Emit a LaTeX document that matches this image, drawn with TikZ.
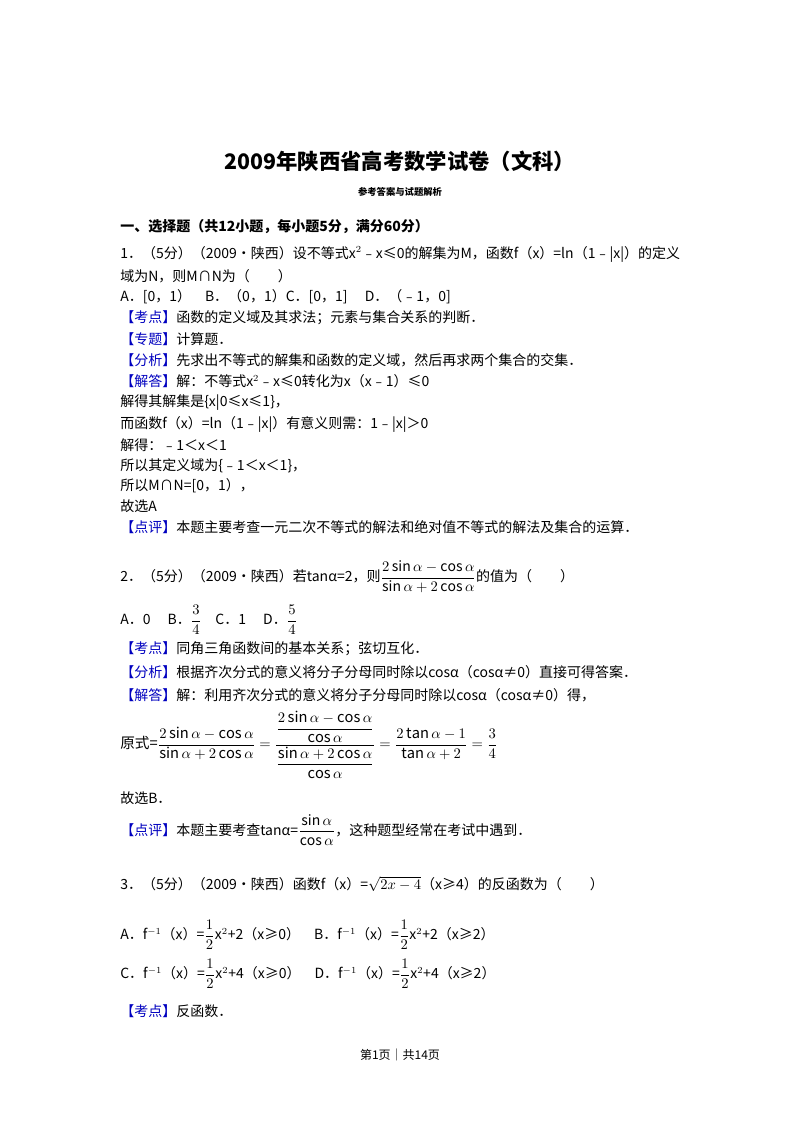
\documentclass[tikz,border=0pt]{standalone}
\usepackage{fontspec}
\setmainfont{Noto Sans CJK SC}
\usepackage{amsmath}
\begin{document}
\begin{tikzpicture}[x=0.75pt,y=-0.75pt,
 tx/.style={anchor=west,inner sep=0pt,font=\fontsize{10.5}{12}\selectfont}]
\useasboundingbox[fill=white] (0,0) rectangle (800,1132);
\node[font=\fontsize{16}{18}\selectfont\bfseries] (title) at (400,161) {2009年陕西省高考数学试卷（文科）};
\node[font=\fontsize{7}{8}\selectfont\bfseries] (sub) at (400,192) {参考答案与试题解析};
\node[tx,font=\fontsize{10.5}{12}\selectfont\bfseries] (sec) at (120,227) {一、选择题（共12小题，每小题5分，满分60分）};
\node[tx] (l1) at (120,254) {1．（5分）（2009•陕西）设不等式x$^2$﹣x≤0的解集为M，函数f（x）=ln（1﹣|x|）的定义};
\node[tx] (l2) at (120,276) {域为N，则M∩N为（　　）};
\node[tx] (l3) at (120,297) {A．[0，1）　B．（0，1）C．[0，1]　 D．（﹣1，0]};
\node[tx] (l4) at (120,318) {\textcolor{blue!75!black}{【考点】}函数的定义域及其求法；元素与集合关系的判断．};
\node[tx] (l5) at (120,339) {\textcolor{blue!75!black}{【专题】}计算题．};
\node[tx] (l6) at (120,360) {\textcolor{blue!75!black}{【分析】}先求出不等式的解集和函数的定义域，然后再求两个集合的交集．};
\node[tx] (l7) at (120,381) {\textcolor{blue!75!black}{【解答】}解：不等式x$^2$﹣x≤0转化为x（x﹣1）≤0};
\node[tx] (l8) at (120,403) {解得其解集是\{x|0≤x≤1\}，};
\node[tx] (l9) at (120,424) {而函数f（x）=ln（1﹣|x|）有意义则需：1﹣|x|＞0};
\node[tx] (l10) at (120,445) {解得：﹣1＜x＜1};
\node[tx] (l11) at (120,466) {所以其定义域为\{﹣1＜x＜1\}，};
\node[tx] (l12) at (120,486) {所以M∩N=[0，1），};
\node[tx] (l13) at (120,506) {故选A};
\node[tx] (l15) at (120,527) {\textcolor{blue!75!black}{【点评】}本题主要考查一元二次不等式的解法和绝对值不等式的解法及集合的运算．};
\node[tx] (q2) at (120,577) {2．（5分）（2009•陕西）若tanα=2，则$\dfrac{2\sin\alpha-\cos\alpha}{\sin\alpha+2\cos\alpha}$的值为（　　）};
\node[tx] (o2) at (120,620) {A．0　 B．$\dfrac{3}{4}$　C．1　 D．$\dfrac{5}{4}$};
\node[tx] (k2) at (120,649) {\textcolor{blue!75!black}{【考点】}同角三角函数间的基本关系；弦切互化．};
\node[tx] (f2) at (120,672) {\textcolor{blue!75!black}{【分析】}根据齐次分式的意义将分子分母同时除以cosα（cosα≠0）直接可得答案．};
\node[tx] (j2) at (120,695) {\textcolor{blue!75!black}{【解答】}解：利用齐次分式的意义将分子分母同时除以cosα（cosα≠0）得，};
\node[tx,font=\fontsize{11}{13}\selectfont] (big) at (120,745) {原式=$\dfrac{2\sin\alpha-\cos\alpha}{\sin\alpha+2\cos\alpha}=\dfrac{\dfrac{2\sin\alpha-\cos\alpha}{\cos\alpha}}{\dfrac{\sin\alpha+2\cos\alpha}{\cos\alpha}}=\dfrac{2\tan\alpha-1}{\tan\alpha+2}=\dfrac{3}{4}$};
\node[tx] (g2) at (120,798) {故选B．};
\node[tx] (d2) at (120,830) {\textcolor{blue!75!black}{【点评】}本题主要考查tanα=$\dfrac{\sin\alpha}{\cos\alpha}$，这种题型经常在考试中遇到．};
\node[tx] (q3) at (120,884) {3．（5分）（2009•陕西）函数$\mathrm{f}$（x）=$\sqrt{2x-4}$（x≥4）的反函数为（　　）};
\node[tx] (a3) at (120,935) {A．$\mathrm{f}^{-1}$（x）=$\dfrac{1}{2}$x$^2$+2（x≥0）　B．$\mathrm{f}^{-1}$（x）=$\dfrac{1}{2}$x$^2$+2（x≥2）};
\node[tx] (c3) at (120,974) {C．$\mathrm{f}^{-1}$（x）=$\dfrac{1}{2}$x$^2$+4（x≥0）　D．$\mathrm{f}^{-1}$（x）=$\dfrac{1}{2}$x$^2$+4（x≥2）};
\node[tx] (k3) at (120,1011) {\textcolor{blue!75!black}{【考点】}反函数．};
\node[font=\fontsize{9}{10}\selectfont] (foot) at (400,1055) {第1页｜共14页};
\end{tikzpicture}
\end{document}
